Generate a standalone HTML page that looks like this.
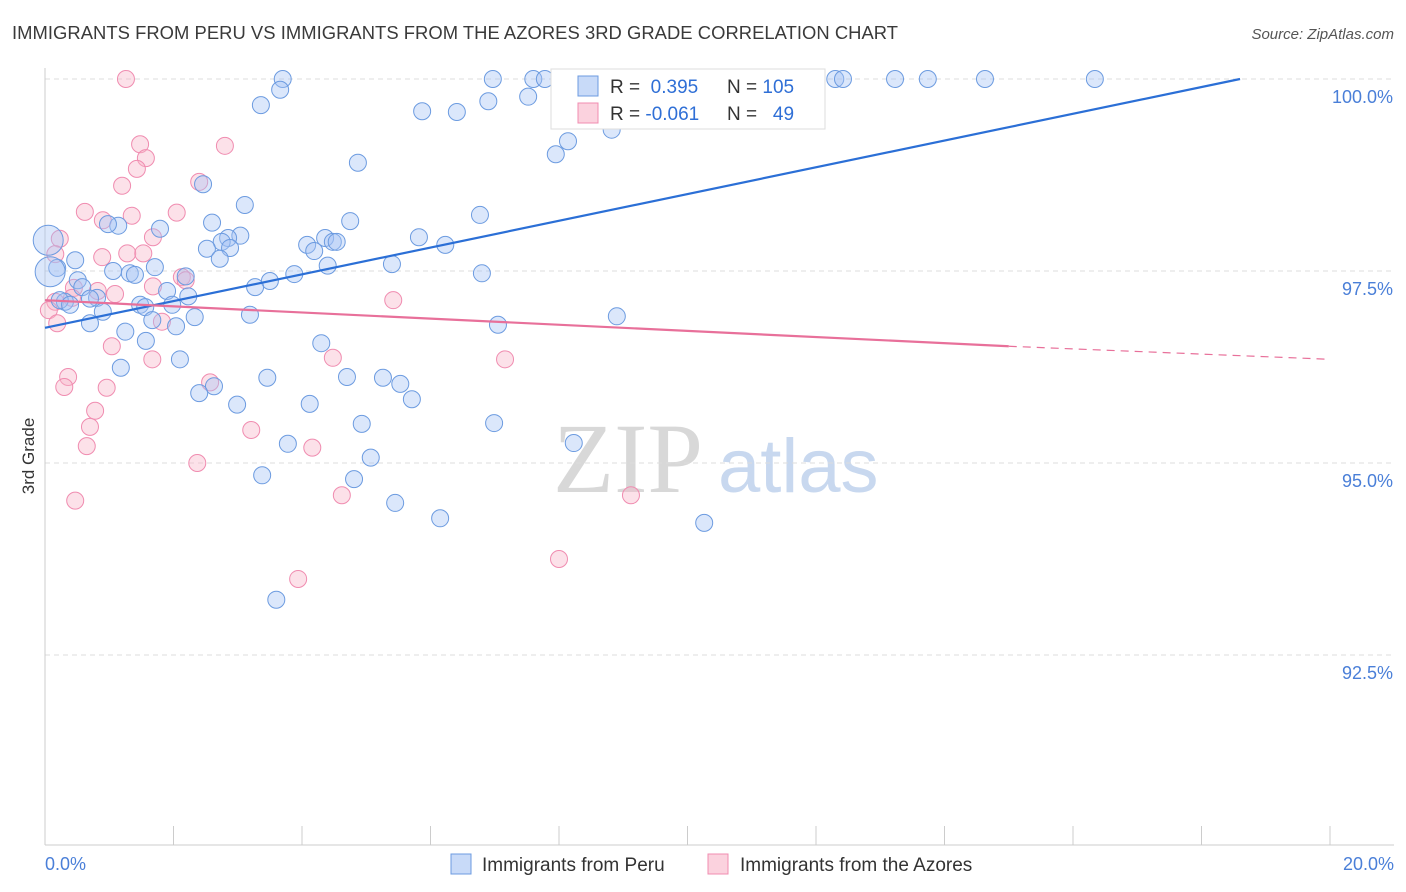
<!DOCTYPE html>
<html><head><meta charset="utf-8">
<style>
body{margin:0;background:#fff;font-family:"Liberation Sans",sans-serif;}
svg{display:block}
</style></head>
<body>
<svg id="chart" width="1406" height="892" xmlns="http://www.w3.org/2000/svg">
<text x="12" y="39" font-size="18.4" fill="#3a3a3a" font-family="Liberation Sans, sans-serif" textLength="886">IMMIGRANTS FROM PERU VS IMMIGRANTS FROM THE AZORES 3RD GRADE CORRELATION CHART</text>
<text x="1394" y="39" font-size="15" fill="#555" text-anchor="end" font-style="italic">Source: ZipAtlas.com</text>
<g>
<text x="553" y="492" font-size="100" fill="#d8d8d8" font-family="Liberation Serif, serif">ZIP</text>
<text x="718" y="492" font-size="76" fill="#c8d8ef">atlas</text>
</g>
<g id="grid"></g>
<g id="axes"></g>
<g id="marks"></g>
<text transform="translate(34,456) rotate(-90)" font-size="17" fill="#333" text-anchor="middle">3rd Grade</text>
<g>
<rect x="551" y="69" width="274" height="60" fill="#fff" stroke="#ddd"/>
<rect x="578" y="76" width="20" height="20" fill="rgba(164,194,244,0.6)" stroke="#6c9be0"/>
<rect x="578" y="103" width="20" height="20" fill="rgba(248,180,200,0.6)" stroke="#f08cb0"/>
<text x="610" y="93" font-size="19" fill="#333">R = <tspan fill="#2f6fd6">&#160;0.395</tspan><tspan x="727">N = </tspan><tspan fill="#2f6fd6">105</tspan></text>
<text x="610" y="120" font-size="19" fill="#333">R = <tspan fill="#2f6fd6">-0.061</tspan><tspan x="727">N = </tspan><tspan fill="#2f6fd6">&#160;&#160;49</tspan></text>
</g>
<g>
<rect x="451" y="854" width="20" height="20" fill="rgba(164,194,244,0.6)" stroke="#6c9be0"/>
<text x="482" y="871" font-size="19" fill="#333">Immigrants from Peru</text>
<rect x="708" y="854" width="20" height="20" fill="rgba(248,180,200,0.6)" stroke="#f08cb0"/>
<text x="740" y="871" font-size="19" fill="#333">Immigrants from the Azores</text>
</g>
</svg>
<script>
const blueX=[3.70,6.97,7.60,7.78,9.53,12.30,12.42,13.23,13.74,14.63,16.34,3.66,6.90,7.52,3.36,5.87,6.41,8.14,7.95,8.82,4.87,2.46,3.11,6.77,4.75,2.60,1.14,0.98,1.79,3.04,2.85,2.75,2.52,2.88,5.82,4.08,4.36,4.48,4.54,4.19,6.23,2.72,0.47,0.19,0.51,1.06,1.32,1.40,1.71,2.19,3.50,3.27,3.88,4.40,5.40,6.80,0.58,1.90,2.23,0.81,0.70,0.31,0.23,0.39,1.48,1.56,1.98,0.90,2.33,3.19,1.67,0.70,2.04,7.05,8.90,1.25,1.57,4.30,2.10,1.18,3.46,4.70,5.26,5.53,5.71,2.63,2.40,2.99,4.12,4.93,6.99,3.78,8.23,5.07,3.38,4.81,5.45,6.15,10.26,3.60];
const blueY=[100,100,100,100,100,100,100,100,100,100,100,99.86,99.71,99.77,99.66,99.58,99.57,99.19,99.02,99.34,98.91,98.63,98.36,98.23,98.15,98.13,98.09,98.11,98.05,97.96,97.93,97.88,97.79,97.80,97.94,97.84,97.93,97.88,97.88,97.76,97.84,97.66,97.64,97.54,97.38,97.50,97.47,97.45,97.55,97.43,97.37,97.29,97.46,97.57,97.59,97.47,97.29,97.24,97.17,97.15,97.14,97.10,97.12,97.06,97.06,97.03,97.06,96.97,96.90,96.93,96.86,96.82,96.78,96.80,96.91,96.71,96.59,96.56,96.35,96.24,96.11,96.12,96.11,96.03,95.83,96.00,95.91,95.76,95.77,95.51,95.52,95.25,95.26,95.07,94.84,94.79,94.48,94.28,94.22,93.22];
const blueBigX=[0.05,0.08];
const blueBigY=[97.90,97.49];
const pinkX=[1.26,1.48,1.57,1.43,2.80,1.20,2.40,0.62,0.90,1.35,2.05,0.23,1.68,0.16,0.89,1.28,1.53,2.13,2.19,0.45,0.82,1.68,1.09,0.42,0.16,0.06,5.42,0.19,1.82,1.04,1.67,4.48,7.16,0.36,0.30,0.96,2.57,0.78,0.70,3.21,0.65,4.16,2.37,0.47,4.62,9.12,8.00,3.94,9.57,10.89];
const pinkY=[100,99.15,98.97,98.83,99.13,98.61,98.66,98.27,98.16,98.22,98.26,97.92,97.94,97.72,97.68,97.73,97.73,97.42,97.38,97.28,97.24,97.30,97.20,97.15,97.10,96.99,97.12,96.82,96.84,96.52,96.35,96.37,96.35,96.12,95.99,95.98,96.05,95.68,95.47,95.43,95.22,95.20,95.00,94.51,94.58,94.58,93.75,93.49,100,100];
const blueTrend=[96.76,100.0];
const blueTrendX=[0,18.6];
const pinkTrend=[97.12,96.52,96.35];
const pinkTrendX=[0,15.0,20];
const yTicks=[100,97.5,95,92.5];
const yTickLabels=["100.0%","97.5%","95.0%","92.5%"];
const xTicks=[0,2,4,6,8,10,12,14,16,18,20];

const NS="http://www.w3.org/2000/svg";
const X0=45,X1=1330,Ybase=79;
const sx=v=>X0+(v/20)*(X1-X0);
const sy=v=>Ybase+(100-v)*76.8;
function mk(tag,attrs,parent){const e=document.createElementNS(NS,tag);for(const k in attrs)e.setAttribute(k,attrs[k]);parent.appendChild(e);return e;}
const grid=document.getElementById('grid'),axes=document.getElementById('axes'),marks=document.getElementById('marks');
yTicks.forEach((t,i)=>{
  const l=mk('line',{x1:X0,x2:1394,y1:sy(t),y2:sy(t),stroke:'#ddd','stroke-dasharray':'5,4'},grid);
  
  
  const tx=mk('text',{x:1393,y:sy(t)+24,'font-size':18,fill:'#4a7fd8','text-anchor':'end'},axes);
  tx.textContent=yTickLabels[i];
  
  
});
const ax=mk('line',{x1:X0,x2:1394,y1:845,y2:845,stroke:'#ccc'},axes);


const ay=mk('line',{x1:X0,x2:X0,y1:68,y2:845,stroke:'#ccc'},axes);


xTicks.forEach(t=>{
  const l=mk('line',{x1:sx(t),x2:sx(t),y1:826,y2:845,stroke:'#ccc'},axes);
  
  
});
const xl0=mk('text',{x:45,y:870,'font-size':18,fill:'#4a7fd8'},axes);xl0.textContent=xTicks[0].toFixed(1)+'%';


const xl1=mk('text',{x:1394,y:870,'font-size':18,fill:'#4a7fd8','text-anchor':'end'},axes);xl1.textContent=xTicks[xTicks.length-1].toFixed(1)+'%';



function dot(x,y,r,fill,stroke,name){
  const c=mk('circle',{cx:sx(x),cy:sy(y),r:r,fill:fill,stroke:stroke,'stroke-width':1},marks);
  
  
}
pinkX.forEach((x,i)=>dot(x,pinkY[i],8.5,'rgba(248,180,200,0.4)','#f08cb0','azores-point'));
blueX.forEach((x,i)=>dot(x,blueY[i],8.5,'rgba(164,194,244,0.4)','#6c9be0','peru-point'));
blueBigX.forEach((x,i)=>dot(x,blueBigY[i],15,'rgba(164,194,244,0.4)','#6c9be0','peru-point-large'));

const bl=mk('line',{x1:sx(blueTrendX[0]),y1:sy(blueTrend[0]),x2:sx(blueTrendX[1]),y2:sy(blueTrend[1]),stroke:'#2b6fd6','stroke-width':2.2},marks);


const pl=mk('line',{x1:sx(pinkTrendX[0]),y1:sy(pinkTrend[0]),x2:sx(pinkTrendX[1]),y2:sy(pinkTrend[1]),stroke:'#e8709a','stroke-width':2.2},marks);


const pd=mk('line',{x1:sx(pinkTrendX[1]),y1:sy(pinkTrend[1]),x2:sx(pinkTrendX[2]),y2:sy(pinkTrend[2]),stroke:'#e8709a','stroke-width':1.2,'stroke-dasharray':'8,6'},marks);


</script>
</body></html>
